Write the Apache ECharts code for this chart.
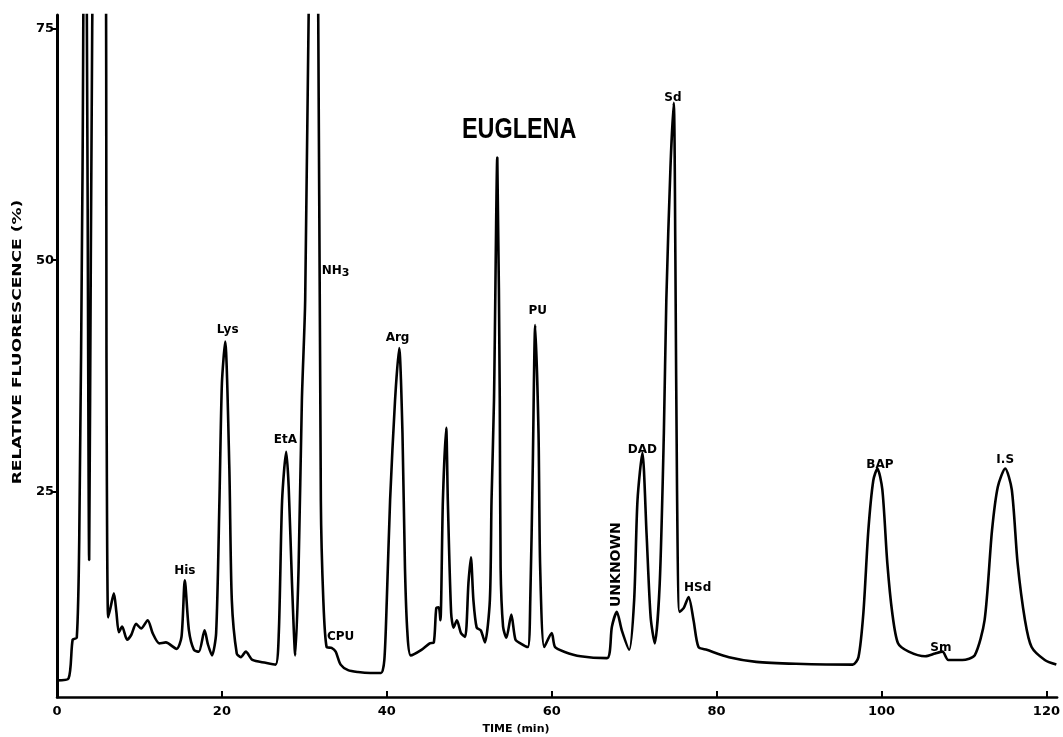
<!DOCTYPE html>
<html>
<head>
<meta charset="utf-8">
<script src="https://cdn.jsdelivr.net/npm/echarts@6/dist/echarts.min.js"></script>
<style>html,body{margin:0;padding:0;background:#fff}#c{width:1063px;height:737px}</style>
</head>
<body>
<div id="c"></div>
<script>
// Chromatogram trace: time (min) and relative fluorescence (%)
const time = [0,1.4,1.9,2.4,2.7,3.1,3.4,3.7,3.9,4.1,4.5,5.2,5.9,6.0,6.2,6.5,6.9,7.2,7.5,7.9,8.5,9.0,9.6,10.2,11.0,11.6,12.4,13.2,14.5,15.1,15.5,16.0,16.6,17.2,17.9,18.3,18.8,19.3,19.7,20.0,20.4,20.9,21.2,21.8,22.3,22.9,23.7,25.3,26.5,26.9,27.3,27.8,28.1,28.5,28.9,29.3,29.7,30.1,30.7,31.2,31.6,32.0,32.3,32.7,33.3,33.8,34.4,35.3,36.5,38.0,39.3,39.7,40.0,40.4,41.0,41.5,41.9,42.2,42.5,42.9,44.2,45.2,45.7,46.0,46.3,46.5,46.8,47.2,47.4,47.8,48.1,48.5,49.0,49.5,49.9,50.2,50.5,50.9,51.4,51.9,52.5,52.7,53.0,53.4,53.7,53.8,54.1,54.5,55.1,55.6,56.2,57.1,57.4,57.7,58.0,58.4,58.6,59.1,60.0,60.4,61.5,63.5,66.7,67.3,67.9,68.5,69.4,70.0,70.4,71.0,71.5,72.0,72.5,73.1,73.6,73.9,74.4,74.8,75.0,75.2,75.5,76.0,76.6,77.2,77.8,78.8,81.5,84.8,89.6,96.5,97.2,97.8,98.4,99.0,99.5,100.1,100.7,101.3,102.0,103.3,105.3,106.5,107.4,108.1,109.8,111.3,112.5,113.4,114.1,115.0,115.8,116.5,117.4,118.2,119.8,121.2];
const signal = [4.6,4.8,9.0,9.2,20,60,110,60,17.6,50,100,130,100,40,11.4,12.5,14.0,12,9.8,10.4,9.0,9.5,10.7,10.2,11.1,9.7,8.6,8.7,8.0,9.3,15.4,10.0,7.9,7.7,10.0,8.5,7.3,9.7,24,36.7,41.2,27.6,13.3,7.5,7.1,7.7,6.8,6.5,6.3,9.7,24,29.3,25.5,15.1,7.3,16.8,34.9,45.7,90,110,90,24,13.3,8.2,8.1,7.7,6.3,5.7,5.5,5.4,5.4,6.8,13.3,24.1,34.9,40.5,31.3,16.8,9.7,7.3,7.9,8.6,8.7,12.4,12.5,11.1,24,31.9,24,11.9,10.3,11.1,9.7,9.3,15.1,17.9,13.3,10.3,10.0,8.7,13.3,24,34.9,61.1,34.9,16.8,10.4,9.2,11.7,9.0,8.6,8.2,13.3,27.6,43.0,31.3,16.8,8.2,9.7,8.2,7.7,7.2,7.0,10.4,12.0,10.0,7.9,13.3,24,29.2,20.5,11.4,8.6,15.1,31.3,45.7,60,67.0,50,25,12.0,12.4,13.6,11.1,8.2,7.9,7.1,6.6,6.4,6.3,7.1,11.9,20.8,26.2,27.5,25.2,17.3,11.9,8.6,7.7,7.2,7.5,7.7,6.8,6.8,7.3,11.1,20.8,25.5,27.5,25.2,17.3,11.1,8.2,6.8,6.3];

// Peak labels and where they sit (data coordinates)
const peakNames = ['His','Lys','EtA','NH3','CPU','Arg','PU','UNKNOWN','DAD','Sd','HSd','BAP','Sm','I.S'];
const peakT     = [15.5, 20.7, 27.7, 32.1, 34.4, 41.3, 58.3, 67.9, 71.0, 74.7, 77.7, 99.8, 107.2, 115.0];
const peakV     = [16.4, 42.5, 30.6, 48.9,  9.3, 41.6, 44.5, 17.1, 29.5, 67.5, 14.6, 27.9,   8.1,  28.4];

const xTicks = [0,20,40,60,80,100,120];
const yTicks = [25,50,75];

const wide = '"DejaVu Sans", sans-serif';
const traceData = time.map((t,i)=>[t, signal[i]]);
const labelData = peakNames.map((n,i)=>{
  const item = {value:[peakT[i], peakV[i]], name:n};
  if (n === 'UNKNOWN') item.label = {rotate: 90, fontSize: 14};
  if (n === 'NH3') item.label = {align:'left', formatter:'{a|NH}{b|3}'};
  return item;
});

const chart = echarts.init(document.getElementById('c'), null, {renderer:'canvas'});
chart.setOption({
  animation:false,
  backgroundColor:'#fff',
  graphic:[
    {type:'text', x:462, y:130, scaleX:0.78, silent:true,
     style:{text:'EUGLENA', font:'bold 30px "Liberation Sans", Arial, sans-serif', fill:'#000', align:'left', verticalAlign:'middle'}},
    {type:'text', x:516, y:729, silent:true,
     style:{text:'TIME (min)', font:'bold 11px "DejaVu Sans", sans-serif', fill:'#000', align:'center', verticalAlign:'middle'}},
    {type:'text', x:18, y:342, rotation:Math.PI/2, scaleX:1.42, silent:true,
     style:{text:'RELATIVE FLUORESCENCE (%)', font:'bold 12px "DejaVu Sans", sans-serif', fill:'#000', align:'center', verticalAlign:'middle'}}
  ],
  grid:{left:57, right:0, top:15, bottom:40},
  xAxis:{type:'value', min:0, max:121.3, interval:20,
    axisLine:{show:true, onZero:false, lineStyle:{color:'#000', width:2.5}},
    axisTick:{show:true, inside:true, length:6, lineStyle:{color:'#000', width:2}, customValues:xTicks},
    axisLabel:{fontFamily:wide, fontWeight:'bold', fontSize:13, color:'#000', margin:8, customValues:xTicks},
    splitLine:{show:false}},
  yAxis:{type:'value', min:2.8, max:76.5,
    axisLine:{show:true, onZero:false, lineStyle:{color:'#000', width:3}},
    axisTick:{show:true, length:5, lineStyle:{color:'#000', width:2}, customValues:yTicks},
    axisLabel:{fontFamily:wide, fontWeight:'bold', fontSize:13, color:'#000', margin:3, customValues:yTicks},
    splitLine:{show:false}},
  series:[
    {type:'line', data:traceData, showSymbol:false, smooth:0.25, clip:true,
     lineStyle:{color:'#000', width:2.6}},
    {type:'scatter', data:labelData, symbolSize:0, silent:true, itemStyle:{opacity:1},
     label:{show:true, position:'inside', formatter:'{b}', fontFamily:wide, fontWeight:'bold', fontSize:12, color:'#000',
       opacity:1, textBorderWidth:0,
       rich:{a:{fontFamily:wide, fontWeight:'bold', fontSize:12, color:'#000'},
             b:{fontFamily:wide, fontWeight:'bold', fontSize:11, color:'#000', padding:[6,0,0,0]}}}}
  ]
});
</script>
</body>
</html>
